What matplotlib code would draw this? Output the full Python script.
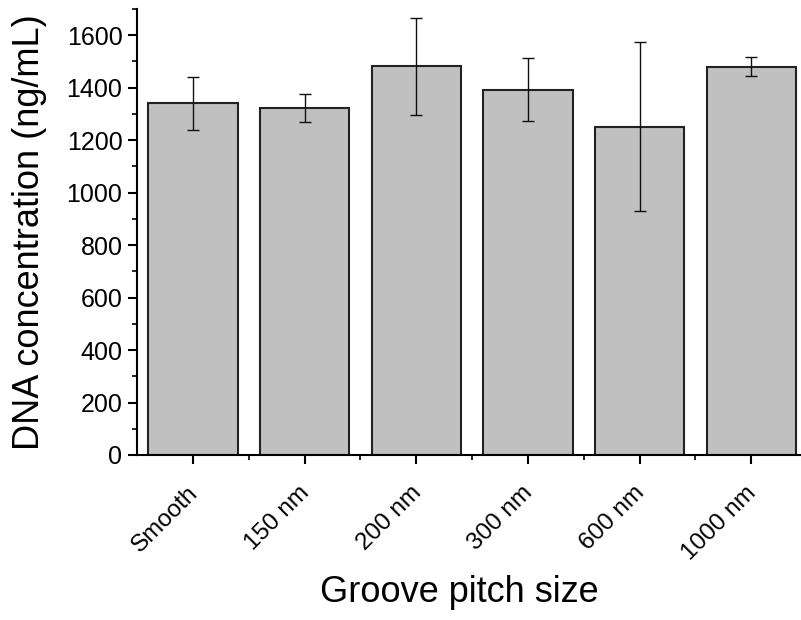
import matplotlib
matplotlib.use("Agg")
import matplotlib.pyplot as plt
import matplotlib.transforms as mtransforms
from matplotlib.ticker import MultipleLocator

plt.rcParams['font.family'] = ['Liberation Sans', 'DejaVu Sans']

# data
groups = ["Smooth", "150 nm", "200 nm", "300 nm", "600 nm", "1000 nm"]
conc = [1340, 1323, 1481, 1393, 1252, 1480]
err = [101, 54, 184, 119, 323, 37]

fig = plt.figure(figsize=(8.01, 6.2), dpi=100)
ax = fig.add_axes([137/801, (620-455)/620, 670/801, (455-9)/620])

x = range(len(groups))
ax.bar(x, conc, width=0.8, color="#c0c0c0", edgecolor="#222222", linewidth=1.5)
ax.errorbar(x, conc, yerr=err, fmt="none", ecolor="#111111", elinewidth=1.0,
            capsize=4, capthick=1.0)

ax.set_xlim(-0.5, 5.5)
ax.set_ylim(0, 1700)
ax.yaxis.set_major_locator(MultipleLocator(200))
ax.yaxis.set_minor_locator(MultipleLocator(100))
ax.set_xticks(list(x))
ax.set_xticks([i + 0.5 for i in x], minor=True)
ax.set_xticklabels(groups, rotation=45, ha="right", va="top", rotation_mode="anchor")

for s in ["top", "right"]:
    ax.spines[s].set_visible(False)
for s in ["left", "bottom"]:
    ax.spines[s].set_linewidth(1.5)

ax.tick_params(which="major", direction="out", length=6.5, width=1.5, labelsize=18, pad=4)
ax.tick_params(axis="x", which="major", labelsize=17.5, pad=13)
ax.tick_params(which="minor", direction="out", length=3.5, width=1.2)

# nudge rotated x labels a little left
shift = mtransforms.ScaledTranslation(-6/100, 0, fig.dpi_scale_trans)
for lab in ax.get_xticklabels():
    lab.set_transform(lab.get_transform() + shift)

ax.set_ylabel("DNA concentration (ng/mL)", fontsize=26, va="center")
ax.yaxis.set_label_coords((30 - 137) / 670, 0.5)
ax.set_xlabel("Groove pitch size", fontsize=26, va="center")
ax.xaxis.set_label_coords((459 - 137) / 670, -(592 - 455) / 446)

fig.savefig("out.png", dpi=100)
